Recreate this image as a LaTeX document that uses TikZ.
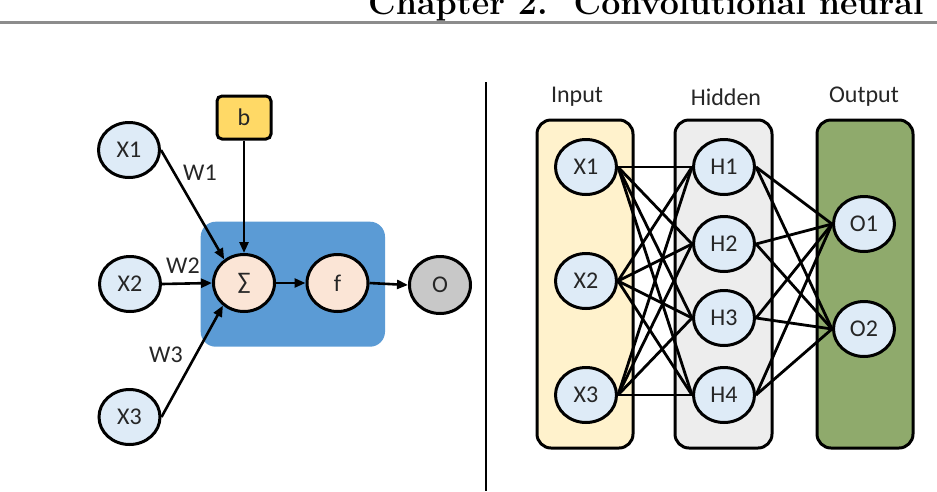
\documentclass[tikz,border=0pt]{standalone}
\usepackage{fontspec}
\newfontfamily\lab{Carlito}
\usetikzlibrary{shapes.geometric,arrows.meta,backgrounds}
\definecolor{inblue}{HTML}{DEEBF7}
\definecolor{peach}{HTML}{FBE5D6}
\definecolor{boxblue}{HTML}{5B9BD5}
\definecolor{byellow}{HTML}{FFD966}
\definecolor{colyellow}{HTML}{FFF2CC}
\definecolor{colgray}{HTML}{EDEDED}
\definecolor{colgreen}{HTML}{8FAA6C}
\definecolor{outgray}{HTML}{C8C8C8}
\definecolor{rulegray}{HTML}{8C8C8C}
\definecolor{txt}{HTML}{262626}
\begin{document}
\begin{tikzpicture}[x=1pt,y=-1pt,
  labfont/.style={font=\lab\fontsize{24}{27}\selectfont, text=txt},
  neuron/.style={ellipse, draw=black, line width=3pt, fill=inblue,
    minimum width=61pt, minimum height=55pt, inner sep=0pt, labfont},
  opnode/.style={neuron, fill=peach, minimum height=57pt},
  biasbox/.style={rectangle, rounded corners=5pt, draw=black, line width=3pt,
    fill=byellow, minimum width=54pt, minimum height=43pt, inner sep=0pt, labfont},
  wlabel/.style={labfont, inner sep=0pt},
  arr/.style={line width=2.6pt, -{Triangle[length=11pt,width=9pt]}},
  edge/.style={line width=2.8pt},
  column/.style={draw=black, line width=3pt, rounded corners=14pt}
]
\useasboundingbox (0,0) rectangle (937,491);
\clip (0,0) rectangle (937,491);

% page header (cut off by the page edges, as in the reference)
\node[anchor=base west, inner sep=0pt, font=\fontsize{34}{38}\selectfont\bfseries] (hdr) at (368,14)
  {Chapter\hspace{13pt}2.\hspace{26pt}Convolutional neural};
\coordinate (rl) at (0,22.5);
\coordinate (rr) at (937,22.5);
\draw[rulegray, line width=2.8pt] (rl) -- (rr);

% divider
\coordinate (dt) at (486,82);
\coordinate (db) at (486,491);
\draw[line width=2.8pt] (dt) -- (db);

% ---------------- left: single neuron ----------------
\fill[boxblue, rounded corners=15pt] (200.7,221.7) rectangle (385,346.7);

\node[neuron] (x1) at (129,150) {X1};
\node[neuron] (x2) at (130,284) {X2};
\node[neuron] (x3) at (129.5,417) {X3};
\node[biasbox] (b) at (244,117.5) {b};
\node[opnode] (sig) at (244,283) {∑};
\node[opnode] (f) at (337.5,283) {f};
\node[neuron, fill=outgray, minimum height=57pt] (o) at (440,285) {O};

\node[wlabel] (w1) at (200,173) {W1};
\node[wlabel] (w2) at (183,266) {W2};
\node[wlabel] (w3) at (166,355) {W3};

\draw[arr] (x1.east) -- (sig.130);
\draw[arr] (x2.east) -- (sig.west);
\draw[arr] (x3.east) -- (sig.227);
\draw[arr] (b.south) -- (sig.north);
\draw[arr] (sig.east) -- (f.west);
\draw[arr] (f.east) -- (o.west);

% ---------------- right: network ----------------
\node[labfont, inner sep=0pt] (tin) at (577,97) {Input};
\node[labfont, inner sep=0pt] (thid) at (726,97) {Hidden};
\node[labfont, inner sep=0pt] (tout) at (864,97) {Output};

\node[neuron] (i1) at (586,167) {X1};
\node[neuron] (i2) at (586,281) {X2};
\node[neuron] (i3) at (586,395) {X3};
\node[neuron] (h1) at (724,167) {H1};
\node[neuron] (h2) at (724,244) {H2};
\node[neuron] (h3) at (724,318) {H3};
\node[neuron] (h4) at (724,395) {H4};
\node[neuron] (o1) at (864,224) {O1};
\node[neuron] (o2) at (864,329) {O2};

\begin{scope}[on background layer]
  \draw[column, fill=colyellow] (537,120) rectangle (633,448);
  \draw[column, fill=colgray] (675,120) rectangle (772,448);
  \draw[column, fill=colgreen] (817,120) rectangle (913,448);
  \foreach \i in {i1,i2,i3}
    \foreach \h in {h1,h2,h3,h4}
      \draw[edge] (\i.east) -- (\h.west);
  \foreach \h in {h1,h2,h3,h4}
    \foreach \o in {o1,o2}
      \draw[edge] (\h.east) -- (\o.west);
\end{scope}
\end{tikzpicture}
\end{document}
